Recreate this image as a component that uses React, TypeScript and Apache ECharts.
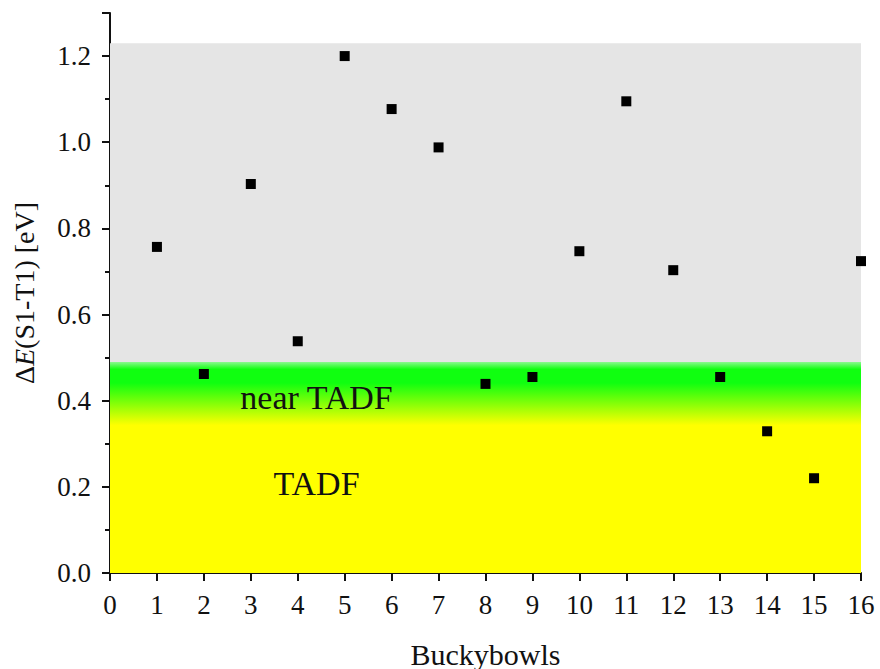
import React, { useEffect, useRef } from "react";
import * as echarts from "echarts";

const molecules = [1, 2, 3, 4, 5, 6, 7, 8, 9, 10, 11, 12, 13, 14, 15, 16];
const deltaE = [0.757, 0.462, 0.903, 0.538, 1.2, 1.077, 0.988, 0.439, 0.455, 0.747, 1.095, 0.703, 0.455, 0.329, 0.22, 0.724];
const regionBounds = { tadfTop: 0.49, grayTop: 1.23 };
const regionLabels = [
  { x: 4.4, y: 0.408, text: "near TADF" },
  { x: 4.4, y: 0.208, text: "TADF" },
];

const FONT = "'Liberation Serif', 'Times New Roman', serif";

export default function App() {
  const ref = useRef<HTMLDivElement>(null);
  useEffect(() => {
    if (!ref.current) return;
    const chart = echarts.init(ref.current, null, { renderer: "svg" });
    chart.setOption({
      animation: false,
      backgroundColor: "#ffffff",
      grid: { left: 110, right: 19, top: 13, bottom: 96, outerBoundsMode: "none", containLabel: false },
      xAxis: {
        type: "value",
        min: 0,
        max: 16,
        interval: 1,
        name: "Buckybowls",
        nameLocation: "middle",
        nameGap: 66,
        nameTextStyle: { fontFamily: FONT, fontSize: 30, color: "#111" },
        axisLine: { show: true, onZero: false, lineStyle: { color: "#111", width: 2 } },
        axisTick: { show: true, length: 8, lineStyle: { color: "#111", width: 2 } },
        axisLabel: { fontFamily: FONT, fontSize: 27, color: "#111", margin: 18 },
        splitLine: { show: false },
      },
      yAxis: {
        type: "value",
        min: 0,
        max: 1.3,
        interval: 0.2,
        name: "{a|Δ}{i|E}{a|(S1-T1) [eV]}",
        nameLocation: "middle",
        nameRotate: 90,
        nameGap: 72,
        nameTextStyle: {
          rich: {
            a: { fontFamily: FONT, fontSize: 28, color: "#111" },
            i: { fontFamily: FONT, fontSize: 28, color: "#111", fontStyle: "italic" },
          },
        },
        axisLine: { show: true, onZero: false, lineStyle: { color: "#111", width: 2 } },
        axisTick: { show: true, length: 8, lineStyle: { color: "#111", width: 2 } },
        minorTick: { show: true, splitNumber: 2, length: 5, lineStyle: { color: "#111", width: 2 } },
        axisLabel: {
          fontFamily: FONT,
          fontSize: 27,
          color: "#111",
          margin: 19,
          formatter: (v: number) => (v > 1.25 ? "" : v.toFixed(1)),
        },
        splitLine: { show: false },
      },
      series: [
        {
          type: "scatter",
          data: molecules.map((m, i) => [m, deltaE[i]]),
          symbol: "rect",
          symbolSize: 10,
          itemStyle: { color: "#000", opacity: 1 },
          z: 5,
          markArea: {
            silent: true,
            data: [
              [
                { yAxis: regionBounds.tadfTop, itemStyle: { color: "#e5e5e5", opacity: 1 } },
                { yAxis: regionBounds.grayTop },
              ],
              [
                {
                  yAxis: 0,
                  itemStyle: {
                    opacity: 1,
                    color: new echarts.graphic.LinearGradient(0, 0, 0, 1, [
                      { offset: 0, color: "#8cf890" },
                      { offset: 0.035, color: "#10ff10" },
                      { offset: 0.1, color: "#10ff10" },
                      { offset: 0.3, color: "#ffff00" },
                      { offset: 1, color: "#ffff00" },
                    ]),
                  },
                },
                { yAxis: regionBounds.tadfTop },
              ],
            ],
          },
        },
        {
          type: "scatter",
          data: regionLabels.map((r) => ({ value: [r.x, r.y], name: r.text })),
          symbolSize: 0,
          silent: true,
          z: 6,
          itemStyle: { opacity: 1 },
          label: {
            show: true,
            position: "inside",
            formatter: (p: any) => p.name,
            fontFamily: FONT,
            fontSize: 34,
            color: "#111",
          },
        },
      ],
    });
    return () => chart.dispose();
  }, []);
  return <div ref={ref} style={{ width: 880, height: 669, position: "absolute", left: 0, top: 0 }} />;
}
